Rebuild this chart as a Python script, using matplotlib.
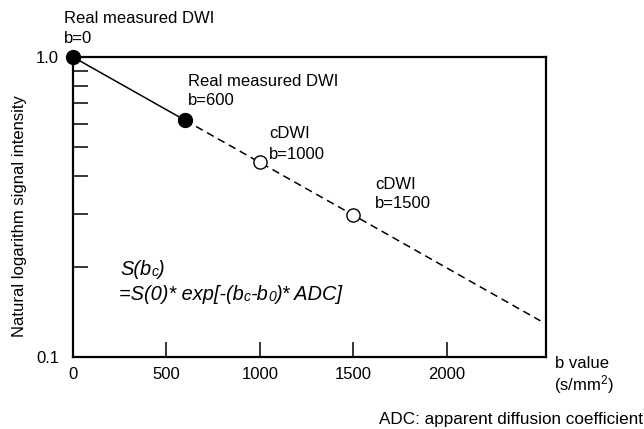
import matplotlib.pyplot as plt
from matplotlib.ticker import FixedLocator, NullFormatter

plt.rcParams["font.family"] = ["Liberation Sans", "DejaVu Sans"]
plt.rcParams["mathtext.fontset"] = "custom"
plt.rcParams["mathtext.rm"] = "Liberation Sans"
plt.rcParams["mathtext.it"] = "Liberation Sans:italic"

# measured DWI (filled) and computed DWI (open)
b_measured = [0, 600]
s_measured = [1.0, 0.615]
b_computed = [1000, 1500]
s_computed = [0.445, 0.297]
# extrapolated line end
b_end = 2500
s_end = 0.132

x_ticks = [0, 500, 1000, 1500, 2000]
y_minor = [0.2, 0.3, 0.4, 0.5, 0.6, 0.7, 0.8, 0.9]

W, H = 644, 429
fig = plt.figure(figsize=(W / 100, H / 100), dpi=100)
ax = fig.add_axes([73 / W, 1 - 357 / H, (546 - 73) / W, 300 / H])


def px(x, y):
    return x / W, 1 - y / H


ax.set_yscale("log")
ax.set_xlim(0, 2530)
ax.set_ylim(0.1, 1.0)

# solid between measured points, dashed extrapolation
ax.plot(b_measured, s_measured, color="black", lw=1.1, zorder=2)
ax.plot([b_measured[-1]] + b_computed + [b_end],
        [s_measured[-1]] + s_computed + [s_end],
        color="black", lw=1.1, linestyle=(0, (5, 3.2)), zorder=2)
ax.plot(b_measured, s_measured, "o", ms=10, color="black", clip_on=False, zorder=3)
ax.plot(b_computed, s_computed, "o", ms=9.5, mfc="white", mec="black", mew=1.0, zorder=3)

for sp in ax.spines.values():
    sp.set_linewidth(1.6)

fs = 12
ax.set_xticks(x_ticks)
ax.set_xticklabels(["0", "500", "1000", "1500", "2000"])
ax.tick_params(axis="x", which="major", direction="in", length=11, width=1.1,
               labelsize=fs, pad=7)
ax.xaxis.get_major_ticks()[0].tick1line.set_visible(False)

ax.yaxis.set_major_locator(FixedLocator([0.1, 1.0]))
ax.set_yticklabels(["0.1", "1.0"])
ax.yaxis.set_minor_locator(FixedLocator(y_minor))
ax.yaxis.set_minor_formatter(NullFormatter())
ax.tick_params(axis="y", which="major", length=0, labelsize=fs, pad=10)
ax.tick_params(axis="y", which="minor", direction="in", length=11, width=1.1)

ax.set_ylabel("Natural logarithm signal intensity", fontsize=fs)
ax.yaxis.set_label_coords(-46 / (546 - 73), 0.47)

lines = [
    (64, 23, "Real measured DWI"), (64, 43, "b=0"),
    (188, 86, "Real measured DWI"), (188, 105, "b=600"),
    (269, 138, "cDWI"), (269, 159, "b=1000"),
    (375, 189, "cDWI"), (375, 208, "b=1500"),
    (555, 368, "b value"), (554, 390, "(s/mm$^2$)"),
]
for x, y, t in lines:
    fig.text(*px(x, y), t, fontsize=fs, va="baseline", ha="left")

fig.text(*px(643, 424), "ADC: apparent diffusion coefficient", fontsize=12.3,
         va="baseline", ha="right")

# formula, italic, with small c / 0 after b
renderer = fig.canvas.get_renderer()


def write_run(x, y, parts):
    for txt, small in parts:
        t = fig.text(*px(x, y + (1 if small else 0)), txt, va="baseline", ha="left",
                     style="italic", fontsize=10 if small else 14.4)
        x += t.get_window_extent(renderer).width


write_run(120, 275, [("S(b", False), ("c", True), (")", False)])
write_run(119, 300, [("=S(0)* exp[-(b", False), ("c", True), ("-b", False),
                     ("0", True), (")* ADC]", False)])

fig.savefig("out.png", dpi=100)
